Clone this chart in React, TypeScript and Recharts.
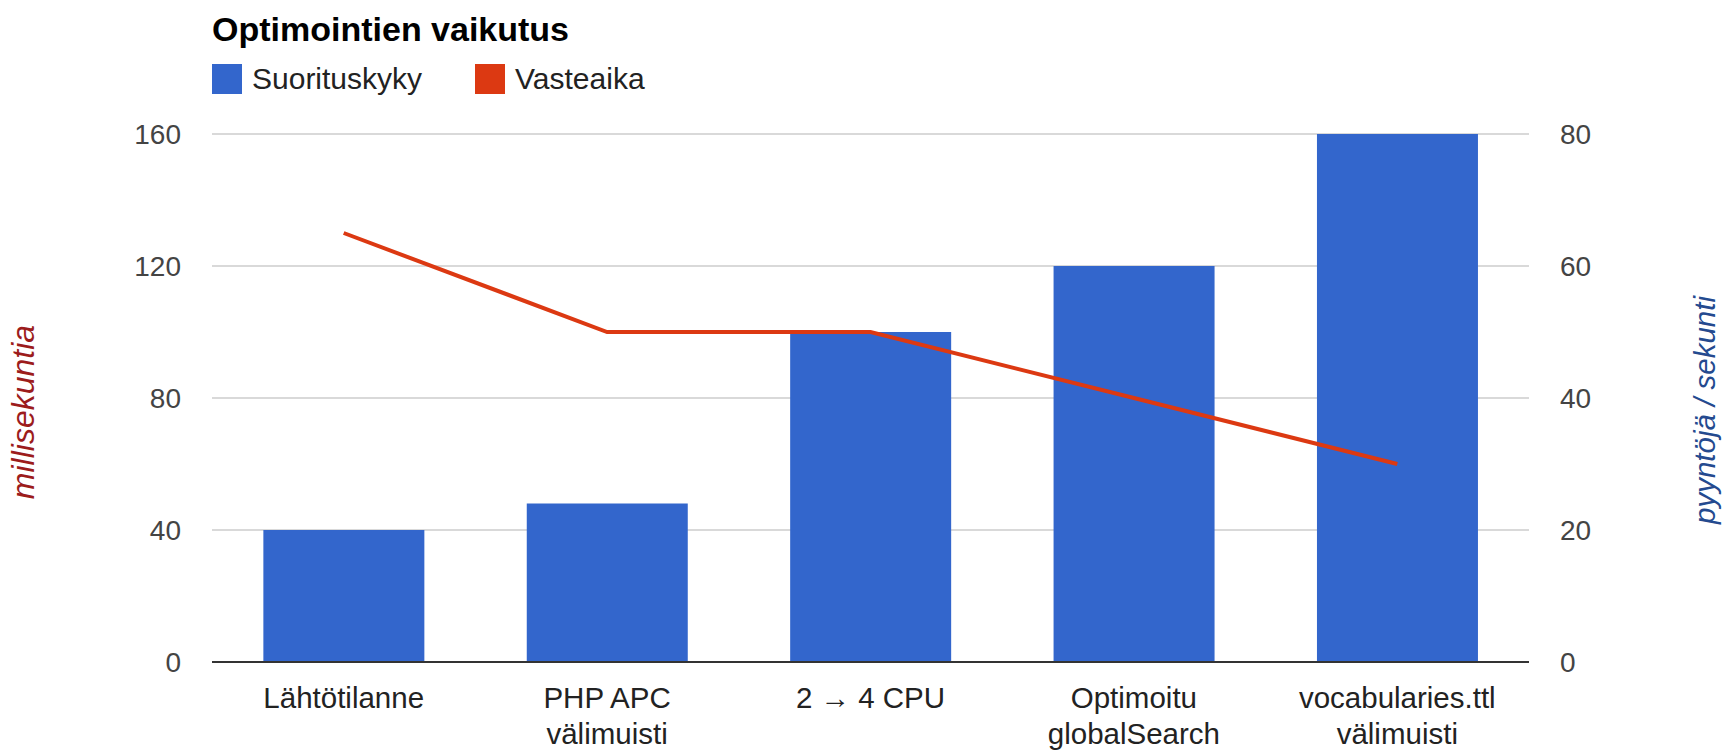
import {
  ComposedChart,
  Bar,
  Line,
  XAxis,
  YAxis,
  CartesianGrid,
  Label,
} from "recharts";

const categories = [
  "Lähtötilanne",
  "PHP APC\nvälimuisti",
  "2 → 4 CPU",
  "Optimoitu\nglobalSearch",
  "vocabularies.ttl\nvälimuisti",
];
const suorituskyky = [20, 24, 50, 60, 80];
const vasteaika = [130, 100, 100, 80, 60];
const leftTicks = [0, 40, 80, 120, 160];
const rightTicks = [0, 20, 40, 60, 80];

const data = categories.map((name, i) => ({
  name,
  suorituskyky: suorituskyky[i],
  vasteaika: vasteaika[i],
}));

const FONT = "'Liberation Sans', Arial, sans-serif";
const BLUE = "#3366cc";
const RED = "#dc3912";

const CategoryTick = ({ x, y, payload }: any) => {
  const lines = String(payload.value).split("\n");
  return (
    <text x={x} y={y} textAnchor="middle" fill="#222" fontSize={29.5} fontFamily={FONT}>
      {lines.map((l, i) => (
        <tspan key={i} x={x} y={y + 46 + i * 36}>
          {l}
        </tspan>
      ))}
    </text>
  );
};

const App = () => {
  return (
    <div style={{ position: "absolute", left: 0, top: 0, width: 1725, height: 752, background: "#fff", fontFamily: FONT }}>
      <div style={{ position: "absolute", left: 212, top: 9, fontSize: 34, fontWeight: "bold", color: "#000", lineHeight: "40px" }}>
        Optimointien vaikutus
      </div>
      <div style={{ position: "absolute", left: 212, top: 64, display: "flex", alignItems: "center", fontSize: 30, color: "#222", lineHeight: "30px" }}>
        <span style={{ width: 30, height: 30, background: BLUE, display: "inline-block" }} />
        <span style={{ marginLeft: 10 }}>Suorituskyky</span>
        <span style={{ width: 30, height: 30, background: RED, display: "inline-block", marginLeft: 53 }} />
        <span style={{ marginLeft: 10 }}>Vasteaika</span>
      </div>
      <ComposedChart
        width={1725}
        height={752}
        data={data}
        margin={{ top: 134, right: 0, left: 0, bottom: 0 }}
        barCategoryGap="19.5%"
      >
        <CartesianGrid yAxisId="left" vertical={false} stroke="#d9d9d9" strokeWidth={2} />
        <XAxis
          dataKey="name"
          height={90}
          tickSize={0}
          tickMargin={0}
          interval={0}
          tick={<CategoryTick />}
          axisLine={{ stroke: "#333", strokeWidth: 2 }}
        />
        <YAxis
          yAxisId="left"
          width={212}
          domain={[0, 160]}
          ticks={leftTicks}
          tickSize={0}
          tickMargin={31}
          axisLine={false}
          tick={{ fill: "#444", fontSize: 28, fontFamily: FONT }}
        >
          <Label
            content={() => (
              <text
                transform="translate(34,412) rotate(-90)"
                textAnchor="middle"
                fill="#9c1c1c"
                fontSize={32}
                fontStyle="italic"
                fontFamily={FONT}
              >
                millisekuntia
              </text>
            )}
          />
        </YAxis>
        <YAxis
          yAxisId="right"
          orientation="right"
          width={196}
          domain={[0, 80]}
          ticks={rightTicks}
          tickSize={0}
          tickMargin={31}
          axisLine={false}
          tick={{ fill: "#444", fontSize: 28, fontFamily: FONT, textAnchor: "start" }}
        >
          <Label
            content={() => (
              <text
                transform="translate(1715,410) rotate(-90)"
                textAnchor="middle"
                fill="#244a8f"
                fontSize={29.5}
                fontStyle="italic"
                fontFamily={FONT}
              >
                pyyntöjä / sekunti
              </text>
            )}
          />
        </YAxis>
        <Bar yAxisId="right" dataKey="suorituskyky" fill={BLUE} isAnimationActive={false} />
        <Line
          yAxisId="left"
          dataKey="vasteaika"
          type="linear"
          stroke={RED}
          strokeWidth={4}
          dot={false}
          activeDot={false}
          isAnimationActive={false}
        />
      </ComposedChart>
    </div>
  );
};

export default App;
